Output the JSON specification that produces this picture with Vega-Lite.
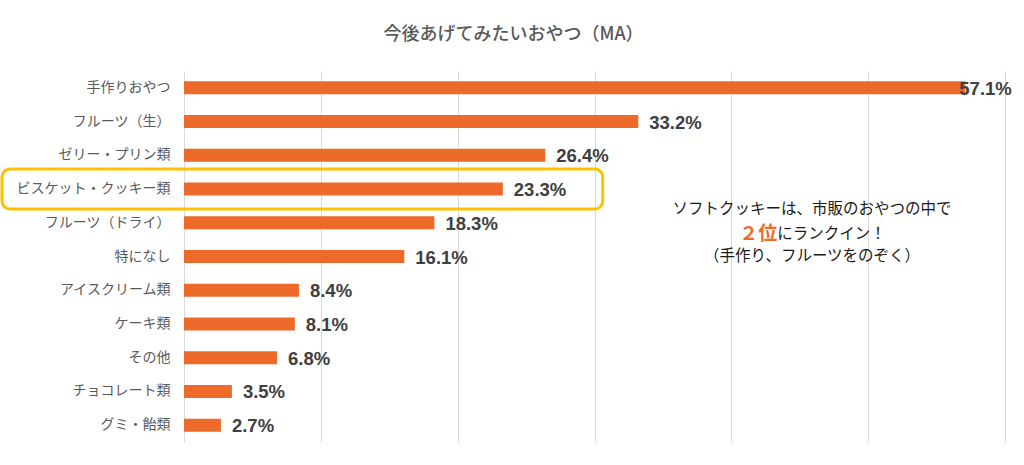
{
  "$schema": "https://vega.github.io/schema/vega-lite/v6.json",
  "autosize": {"type": "none"},
  "padding": {"left": 184, "top": 71, "right": 19, "bottom": 23},
  "width": 821,
  "height": 371,
  "background": "white",
  "title": {
    "text": "今後あげてみたいおやつ（MA）",
    "font": "Noto Sans CJK JP",
    "fontSize": 18,
    "fontWeight": 500,
    "color": "#595959",
    "anchor": "middle",
    "dx": -81,
    "offset": 27
  },
  "config": {
    "view": {"stroke": null},
    "font": "Noto Sans CJK JP"
  },
  "datasets": {
    "bars": [
      {"item": "手作りおやつ", "value": 57.1},
      {"item": "フルーツ（生）", "value": 33.2},
      {"item": "ゼリー・プリン類", "value": 26.4},
      {"item": "ビスケット・クッキー類", "value": 23.3},
      {"item": "フルーツ（ドライ）", "value": 18.3},
      {"item": "特になし", "value": 16.1},
      {"item": "アイスクリーム類", "value": 8.4},
      {"item": "ケーキ類", "value": 8.1},
      {"item": "その他", "value": 6.8},
      {"item": "チョコレート類", "value": 3.5},
      {"item": "グミ・飴類", "value": 2.7}
    ]
  },
  "layer": [
    {
      "data": {"name": "bars"},
      "mark": {"type": "bar", "height": 13, "color": "#EE6A2B"},
      "encoding": {
        "y": {
          "field": "item", "type": "nominal", "sort": null,
          "scale": {"paddingInner": 0, "paddingOuter": 0},
          "axis": {
            "title": null, "domain": false, "ticks": false,
            "labelFont": "Noto Sans CJK JP", "labelFontSize": 14,
            "labelColor": "#595959", "labelPadding": 14
          }
        },
        "x": {
          "field": "value", "type": "quantitative",
          "scale": {"domain": [0, 60], "nice": false},
          "axis": {
            "title": null, "labels": false, "ticks": false, "domain": false,
            "values": [0, 10, 20, 30, 40, 50, 60],
            "grid": true, "gridColor": "#D9D9D9", "gridWidth": 1
          }
        }
      }
    },
    {
      "data": {"name": "bars"},
      "transform": [
        {"filter": "datum.value < 50"},
        {"calculate": "format(datum.value, '.1f') + '%'", "as": "label"}
      ],
      "mark": {"type": "text", "align": "left", "baseline": "middle", "dx": 11, "dy": 1,
               "font": "Liberation Sans", "fontSize": 18.5, "fontWeight": "bold", "color": "#404040"},
      "encoding": {
        "y": {"field": "item", "type": "nominal", "sort": null},
        "x": {"field": "value", "type": "quantitative"},
        "text": {"field": "label"}
      }
    },
    {
      "data": {"name": "bars"},
      "transform": [
        {"filter": "datum.value >= 50"},
        {"calculate": "format(datum.value, '.1f') + '%'", "as": "label"}
      ],
      "mark": {"type": "text", "align": "left", "baseline": "middle", "dx": -6, "dy": 1,
               "font": "Liberation Sans", "fontSize": 18.5, "fontWeight": "bold", "color": "#404040"},
      "encoding": {
        "y": {"field": "item", "type": "nominal", "sort": null},
        "x": {"field": "value", "type": "quantitative"},
        "text": {"field": "label"}
      }
    },
    {
      "data": {"values": [{"item": "ビスケット・クッキー類", "x1": -13.3, "x2": 30.6}]},
      "mark": {"type": "bar", "height": 40, "fill": null, "fillOpacity": 0, "stroke": "#FFC000",
               "strokeWidth": 3, "cornerRadius": 8, "clip": false},
      "encoding": {
        "y": {"field": "item", "type": "nominal", "sort": null},
        "x": {"field": "x1", "type": "quantitative"},
        "x2": {"field": "x2"}
      }
    },
    {
      "data": {"values": [{"item": "フルーツ（ドライ）", "x": 45.9, "text": "ソフトクッキーは、市販のおやつの中で"}]},
      "mark": {"type": "text", "align": "center", "baseline": "middle", "dy": -14,
               "font": "Noto Sans CJK JP", "fontSize": 15.5, "color": "#1a1a1a"},
      "encoding": {
        "y": {"field": "item", "type": "nominal", "sort": null},
        "x": {"field": "x", "type": "quantitative"},
        "text": {"field": "text"}
      }
    },
    {
      "data": {"values": [{"item": "フルーツ（ドライ）", "x": 43.35, "text": "２位"}]},
      "mark": {"type": "text", "align": "right", "baseline": "middle", "dy": 11,
               "font": "Noto Sans CJK JP", "fontSize": 19, "fontWeight": "bold", "color": "#EE6A2B"},
      "encoding": {
        "y": {"field": "item", "type": "nominal", "sort": null},
        "x": {"field": "x", "type": "quantitative"},
        "text": {"field": "text"}
      }
    },
    {
      "data": {"values": [{"item": "フルーツ（ドライ）", "x": 43.35, "text": "にランクイン！"}]},
      "mark": {"type": "text", "align": "left", "baseline": "middle", "dy": 11,
               "font": "Noto Sans CJK JP", "fontSize": 15.5, "color": "#1a1a1a"},
      "encoding": {
        "y": {"field": "item", "type": "nominal", "sort": null},
        "x": {"field": "x", "type": "quantitative"},
        "text": {"field": "text"}
      }
    },
    {
      "data": {"values": [{"item": "特になし", "x": 45.9, "text": "（手作り、フルーツをのぞく）"}]},
      "mark": {"type": "text", "align": "center", "baseline": "middle", "dy": -1,
               "font": "Noto Sans CJK JP", "fontSize": 15.5, "color": "#1a1a1a"},
      "encoding": {
        "y": {"field": "item", "type": "nominal", "sort": null},
        "x": {"field": "x", "type": "quantitative"},
        "text": {"field": "text"}
      }
    }
  ]
}
